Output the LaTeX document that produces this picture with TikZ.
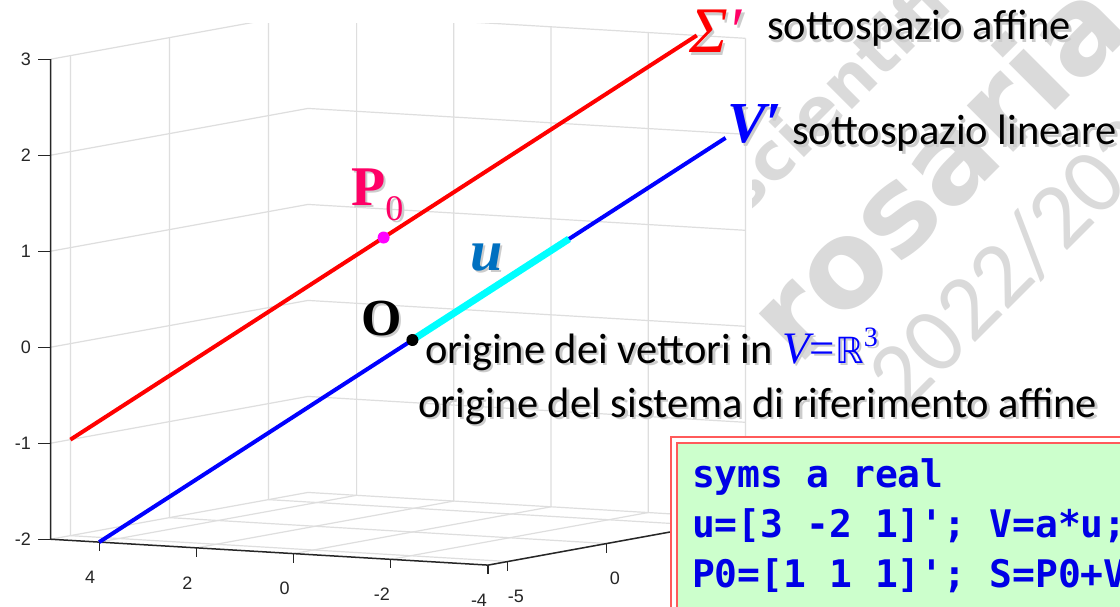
\documentclass[tikz,border=0pt]{standalone}
\usepackage{fontspec}
\setmainfont{Carlito}
\setmonofont{DejaVu Sans Mono}
\newfontfamily\tnr{Liberation Serif}
\newfontfamily\dvs{DejaVu Sans}
\newfontfamily\axf{Liberation Sans}
\newfontfamily\wmf{DejaVu Sans}
\usetikzlibrary{positioning}

\definecolor{gridgray}{RGB}{222,222,222}
\definecolor{axgray}{RGB}{38,38,38}
\definecolor{pzero}{RGB}{255,0,102}
\definecolor{ublue}{RGB}{0,112,192}
\definecolor{vblue}{RGB}{0,0,255}
\definecolor{ucyan}{RGB}{0,255,255}
\definecolor{pmag}{RGB}{255,0,255}
\definecolor{sred}{RGB}{255,0,0}
\definecolor{codeblue}{RGB}{0,0,230}
\definecolor{codegreen}{RGB}{204,255,204}
\definecolor{coderim}{RGB}{255,90,90}
\definecolor{wmgray}{RGB}{218,218,218}

% soft text shadow
\newcommand\shad[1]{\leavevmode\rlap{\kern2.5pt\raisebox{-2.5pt}{\color{black!20}#1}}{#1}}
\newcommand\codefont{\ttfamily\bfseries\fontsize{38}{50}\selectfont}

\begin{document}
\begin{tikzpicture}[x=1pt, y=-1pt,
    grid/.style={draw=gridgray, line width=1.2pt},
    axis/.style={draw=axgray, line width=1.5pt},
    tick/.style={draw=axgray, line width=1.3pt},
    ticklab/.style={font=\axf\fontsize{18}{18}\selectfont, text=axgray, inner sep=0pt},
    txt/.style={anchor=base west, inner sep=0pt, font=\fontsize{42.5}{50}\selectfont},
    sym/.style={anchor=base west, inner sep=0pt},
    dot/.style={circle, inner sep=0pt, minimum size=12pt},
    codebox/.style={draw=coderim, line width=2pt, double=white, double distance=4pt,
                    fill=codegreen, text=codeblue, align=left, text width=520pt,
                    inner xsep=18pt, inner ysep=19pt, font=\codefont},
    wm/.style={text=wmgray, inner sep=0pt, rotate=45}
  ]
  \useasboundingbox (0,0) rectangle (1120,607);
  \clip (0,0) rectangle (1120,607);
  \fill[white] (0,0) rectangle (1120,607);

  % watermark, hidden behind the plot on the left
  \begin{scope}
    \clip (752,0) rectangle (1120,607);
    \node[wm, font=\wmf\bfseries\fontsize{66}{66}\selectfont] (wmschool) at (862,65) {scientifico};
    \node[wm, font=\wmf\bfseries\fontsize{120}{120}\selectfont] (wmname) at (935,168) {rosaria};
    \node[wm, font=\fontsize{93}{93}\selectfont] (wmyear) at (1030,245) {2022/2023};
  \end{scope}

  % 3D axes: x along front-right, y along front-left, z up
  \coordinate (orig) at (412.4,340);
  \begin{scope}
    \clip (0,24) rectangle (1120,607);
    \begin{scope}[shift={(orig)}, x={(19.8pt,3.6pt)}, y={(-48.6pt,2.875pt)}, z={(0pt,96pt)}]
      \foreach \zz in {-2,...,3}
        \draw[grid] (-6,5,\zz) -- (7,5,\zz) -- (7,-4,\zz);
      \foreach \xx in {-5,0,5}
        \draw[grid] (\xx,5,3) -- (\xx,5,-2) -- (\xx,-4,-2);
      \foreach \yy in {4,2,...,-4}
        \draw[grid] (7,\yy,3) -- (7,\yy,-2) -- (-6,\yy,-2);
    \end{scope}
  \end{scope}

  \begin{scope}[shift={(orig)}, x={(19.8pt,3.6pt)}, y={(-48.6pt,2.875pt)}, z={(0pt,96pt)}]
    \draw[axis] (-6,5,3) -- (-6,5,-2) -- (-6,-4,-2) -- (7,-4,-2);
    \foreach \zz in {-2,...,3}
      \draw[tick] (-6,5,\zz) -- ++(-13pt,0pt) node[ticklab, anchor=east, xshift=-6pt] {\zz};
    \foreach \yy in {4,2,...,-4}
      \draw[tick] (-6,\yy,-2) -- ++(0pt,-9pt) node[ticklab, xshift=-9pt, yshift=-26pt] {\yy};
    \foreach \xx in {-5,0,5}
      \draw[tick] (\xx,-4,-2) -- ++(0pt,-9pt) node[ticklab, xshift=8pt, yshift=-26pt] {\xx};

    \coordinate (Sa) at (-5,5,-1);
    \coordinate (Sb) at (7,-3,3);
    \coordinate (Va) at (-6,4,-2);
    \coordinate (Vb) at (6,-4,2);
    \coordinate (Ue) at (3,-2,1);
    \coordinate (P0) at (1,1,1);
    \coordinate (O) at (0,0,0);
  \end{scope}

  \draw[sred, line width=4pt] (Sa) -- (Sb);
  \draw[vblue, line width=4pt] (Va) -- (Vb);
  \draw[ucyan, line width=7pt] (O) -- (Ue);
  \node[dot, fill=pmag] (p0dot) at (P0) {};
  \node[dot, fill=black] (odot) at (O) {};

  % labels
  \node[sym] (sigma) at (689,53) {\tnr\itshape\fontsize{65}{65}\selectfont
    {\color{sred}\shad{Σ}}{\color{pzero}\shad{′}}};
  \node[txt] (affine) at (767,40) {\shad{sottospazio affine}};
  \node[sym] (vlab) at (727,143) {\tnr\bfseries\itshape\fontsize{58}{58}\selectfont
    \color{vblue}\shad{V′}};
  \node[txt] (linear) at (792,145) {\shad{sottospazio lineare}};
  \node[sym] (plab) at (351,205) {\tnr\color{pzero}\fontsize{56}{56}\selectfont
    \bfseries\shad{P}\raisebox{-15pt}{\fontsize{36}{36}\selectfont\mdseries\shad{0}}};
  \node[sym] (ulab) at (470,270) {\tnr\bfseries\itshape\fontsize{58}{58}\selectfont
    \color{ublue}\shad{u}};
  \node[sym] (olab) at (361,335) {\tnr\bfseries\fontsize{52}{52}\selectfont\shad{O}};
  \node[txt] (orig1) at (425,363) {\shad{origine dei vettori in}
    {\color{vblue}\tnr\fontsize{45}{45}\selectfont\shad{{\itshape V}}\shad{=}%
     \shad{{\dvs\fontsize{36}{36}\selectfont ℝ}}\raisebox{17pt}{\fontsize{28}{28}\selectfont\shad{3}}}};
  \node[txt] (orig2) at (418,417) {\shad{origine del sistema di riferimento affine}};

  % MATLAB code
  \node[codebox, anchor=north west] (code) at (673,439)
    {\spaceskip=0.602em\relax syms a real\\u=[3 -2 1]'; V=a*u;\\P0=[1 1 1]'; S=P0+V};
\end{tikzpicture}
\end{document}
